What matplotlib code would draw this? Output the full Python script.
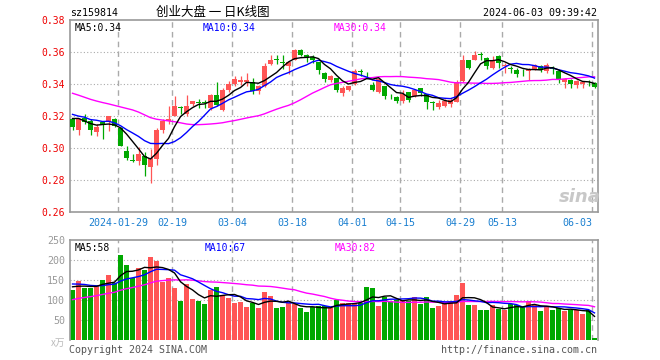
import numpy as np
import pandas as pd
import matplotlib
matplotlib.use("Agg")
import matplotlib.pyplot as plt

# ---------------- data ----------------
dates = [
    '2024-01-17', '2024-01-18', '2024-01-19', '2024-01-22', '2024-01-23', '2024-01-24', '2024-01-25', '2024-01-26',
    '2024-01-29', '2024-01-30', '2024-01-31', '2024-02-01', '2024-02-02', '2024-02-05', '2024-02-06', '2024-02-07',
    '2024-02-08', '2024-02-19', '2024-02-20', '2024-02-21', '2024-02-22', '2024-02-23', '2024-02-26', '2024-02-27',
    '2024-02-28', '2024-02-29', '2024-03-01', '2024-03-04', '2024-03-05', '2024-03-06', '2024-03-07', '2024-03-08',
    '2024-03-11', '2024-03-12', '2024-03-13', '2024-03-14', '2024-03-15', '2024-03-18', '2024-03-19', '2024-03-20',
    '2024-03-21', '2024-03-22', '2024-03-25', '2024-03-26', '2024-03-27', '2024-03-28', '2024-03-29', '2024-04-01',
    '2024-04-02', '2024-04-03', '2024-04-08', '2024-04-09', '2024-04-10', '2024-04-11', '2024-04-12', '2024-04-15',
    '2024-04-16', '2024-04-17', '2024-04-18', '2024-04-19', '2024-04-22', '2024-04-23', '2024-04-24', '2024-04-25',
    '2024-04-26', '2024-04-29', '2024-04-30', '2024-05-06', '2024-05-07', '2024-05-08', '2024-05-09', '2024-05-10',
    '2024-05-13', '2024-05-14', '2024-05-15', '2024-05-16', '2024-05-17', '2024-05-20', '2024-05-21', '2024-05-22',
    '2024-05-23', '2024-05-24', '2024-05-27', '2024-05-28', '2024-05-29', '2024-05-30', '2024-05-31', '2024-06-03',
]

opens = [
    0.3183, 0.3110, 0.3185, 0.3167, 0.3098, 0.3160, 0.3160, 0.3183, 0.3125, 0.2983,
    0.2925, 0.2917, 0.2952, 0.2879, 0.2931, 0.3115, 0.3167, 0.3202, 0.3255, 0.3215,
    0.3277, 0.3285, 0.3285, 0.3250, 0.3333, 0.3240, 0.3365, 0.3400, 0.3413, 0.3410,
    0.3410, 0.3354, 0.3390, 0.3527, 0.3556, 0.3535, 0.3515, 0.3552, 0.3615, 0.3583,
    0.3569, 0.3535, 0.3469, 0.3427, 0.3435, 0.3342, 0.3365, 0.3398, 0.3481, 0.3452,
    0.3396, 0.3350, 0.3385, 0.3325, 0.3317, 0.3296, 0.3348, 0.3323, 0.3375, 0.3335,
    0.3282, 0.3255, 0.3265, 0.3275, 0.3290, 0.3417, 0.3548, 0.3552, 0.3585, 0.3563,
    0.3500, 0.3577, 0.3510, 0.3496, 0.3485, 0.3481, 0.3479, 0.3494, 0.3515, 0.3479,
    0.3496, 0.3479, 0.3415, 0.3427, 0.3396, 0.3400, 0.3412, 0.3406,
]
highs = [
    0.3190, 0.3185, 0.3215, 0.3183, 0.3150, 0.3171, 0.3200, 0.3185, 0.3131, 0.3015,
    0.2960, 0.3006, 0.2975, 0.2996, 0.3127, 0.3183, 0.3265, 0.3323, 0.3265, 0.3333,
    0.3296, 0.3306, 0.3298, 0.3335, 0.3410, 0.3375, 0.3417, 0.3448, 0.3448, 0.3469,
    0.3438, 0.3396, 0.3531, 0.3583, 0.3583, 0.3583, 0.3546, 0.3619, 0.3617, 0.3590,
    0.3583, 0.3538, 0.3475, 0.3458, 0.3440, 0.3385, 0.3390, 0.3494, 0.3492, 0.3475,
    0.3410, 0.3438, 0.3390, 0.3338, 0.3325, 0.3360, 0.3352, 0.3369, 0.3377, 0.3338,
    0.3295, 0.3300, 0.3305, 0.3315, 0.3425, 0.3583, 0.3552, 0.3608, 0.3598, 0.3569,
    0.3577, 0.3580, 0.3531, 0.3510, 0.3500, 0.3494, 0.3500, 0.3527, 0.3521, 0.3531,
    0.3515, 0.3485, 0.3438, 0.3431, 0.3427, 0.3417, 0.3427, 0.3410,
]
lows = [
    0.3110, 0.3079, 0.3150, 0.3079, 0.3073, 0.3056, 0.3104, 0.3131, 0.3010, 0.2923,
    0.2915, 0.2892, 0.2823, 0.2781, 0.2896, 0.3094, 0.3150, 0.3198, 0.3215, 0.3198,
    0.3265, 0.3250, 0.3252, 0.3240, 0.3260, 0.3233, 0.3350, 0.3388, 0.3396, 0.3390,
    0.3340, 0.3340, 0.3381, 0.3521, 0.3527, 0.3496, 0.3460, 0.3548, 0.3573, 0.3540,
    0.3531, 0.3460, 0.3410, 0.3410, 0.3350, 0.3323, 0.3354, 0.3392, 0.3450, 0.3440,
    0.3354, 0.3344, 0.3306, 0.3306, 0.3281, 0.3281, 0.3285, 0.3317, 0.3327, 0.3242,
    0.3240, 0.3245, 0.3258, 0.3255, 0.3285, 0.3410, 0.3494, 0.3548, 0.3548, 0.3494,
    0.3494, 0.3500, 0.3469, 0.3469, 0.3444, 0.3448, 0.3427, 0.3490, 0.3473, 0.3469,
    0.3465, 0.3406, 0.3377, 0.3377, 0.3377, 0.3377, 0.3385, 0.3377,
]
closes = [
    0.3131, 0.3183, 0.3160, 0.3110, 0.3131, 0.3150, 0.3198, 0.3135, 0.3015, 0.2938,
    0.2921, 0.2965, 0.2896, 0.2938, 0.3115, 0.3167, 0.3183, 0.3265, 0.3252, 0.3265,
    0.3296, 0.3283, 0.3281, 0.3333, 0.3267, 0.3365, 0.3400, 0.3431, 0.3427, 0.3427,
    0.3354, 0.3385, 0.3515, 0.3552, 0.3552, 0.3531, 0.3540, 0.3615, 0.3583, 0.3563,
    0.3548, 0.3485, 0.3431, 0.3448, 0.3360, 0.3375, 0.3385, 0.3481, 0.3477, 0.3448,
    0.3360, 0.3431, 0.3327, 0.3323, 0.3292, 0.3338, 0.3302, 0.3365, 0.3344, 0.3290,
    0.3280, 0.3283, 0.3292, 0.3300, 0.3415, 0.3548, 0.3500, 0.3583, 0.3583, 0.3515,
    0.3548, 0.3531, 0.3521, 0.3494, 0.3465, 0.3479, 0.3494, 0.3519, 0.3485, 0.3519,
    0.3494, 0.3423, 0.3431, 0.3400, 0.3417, 0.3410, 0.3410, 0.3381,
]
volumes = [
    125, 147.5, 131, 131, 136, 150, 162.5, 143, 212.5, 187.5,
    154, 179, 175, 207, 198, 146, 156, 131, 97, 140,
    102, 97, 90, 125, 132.5, 112.5, 106, 93, 95, 83,
    93, 80, 120, 110, 80, 82.5, 93, 90, 80, 70,
    82.5, 85, 85, 80, 100, 92.5, 92.5, 90, 93, 132.5,
    130, 85, 107.5, 97.5, 100, 99, 97.5, 107.5, 90, 107.5,
    80, 85, 90, 97.5, 112.5, 142.5, 87.5, 87.5, 75, 75,
    87.5, 77.5, 75, 90, 87.5, 82.5, 97.5, 87.5, 72.5, 82.5,
    75, 80, 72.5, 75, 75, 65, 75, 5,
]
# closes / volumes of the 29 sessions before the window (estimated from the MA lines)
prior_closes = [
    0.354, 0.355, 0.350, 0.345, 0.343, 0.345, 0.342, 0.330, 0.322, 0.320,
    0.337, 0.342, 0.346, 0.341, 0.333, 0.334, 0.341, 0.346, 0.349, 0.341,
    0.329, 0.323, 0.326, 0.317, 0.323, 0.318, 0.324, 0.319, 0.318,
]
prior_volumes = [
    55, 60, 70, 62, 58, 75, 68, 60, 72, 65, 80, 70, 62, 75,
    100, 120, 110, 115, 120, 130,
    150, 140, 155, 145, 145,
    140, 130, 135, 135,
]

tick_dates = ['2024-01-29', '2024-02-19', '2024-03-04', '2024-03-18', '2024-04-01',
              '2024-04-15', '2024-04-29', '2024-05-13', '2024-06-03']
tick_labels = ['2024-01-29', '02-19', '03-04', '03-18', '04-01', '04-15', '04-29', '05-13', '06-03']
price_ticks = [0.26, 0.28, 0.30, 0.32, 0.34, 0.36, 0.38]
vol_ticks = [50, 100, 150, 200, 250]

# ---------------- style ----------------
RED = '#ff5555'
GREEN = '#00a800'
MONO = 'DejaVu Sans Mono'
CJK = ['Noto Sans CJK SC', 'DejaVu Sans']
FRAME = '#999999'
GRID = '#aaaaaa'

W, H = 660, 360
fig = plt.figure(figsize=(6.6, 3.6), dpi=100)
fig.patch.set_facecolor('white')

def fx(px):
    return px / W

def fy(py):
    return 1 - py / H

L, R = 70, 597.5
ax1 = fig.add_axes([fx(L), fy(212), (R - L) / W, 192 / H])
ax2 = fig.add_axes([fx(L), fy(340), (R - L) / W, 100 / H])

n = len(closes)
x = np.arange(n)
o = np.array(opens); c = np.array(closes); h = np.array(highs); lo = np.array(lows)
v = np.array(volumes)
up = c >= o
colors = np.where(up, RED, GREEN)

full_c = pd.Series(prior_closes + closes)
full_v = pd.Series(prior_volumes + volumes)
np_ = len(prior_closes)
ma = {k: full_c.rolling(k).mean().values[np_:] for k in (5, 10, 30)}
vma = {k: full_v.rolling(k).mean().values[np_:] for k in (5, 10, 30)}

xlim = (-0.42, 87.5)
tick_pos = [dates.index(d) - 0.4 for d in tick_dates]

# ----- price panel -----
for yv in price_ticks[1:-1]:
    ax1.axhline(yv, color=GRID, lw=0.8, ls=(0, (1, 2)), zorder=0)
for p in tick_pos:
    ax1.axvline(p, color=GRID, lw=1.0, ls=(0, (4, 3)), zorder=0)

ax1.vlines(x, lo, h, colors=colors, lw=0.9, zorder=2)
body_bottom = np.minimum(o, c)
body_h = np.maximum(np.abs(c - o), 0.0005)
ax1.bar(x, body_h, bottom=body_bottom, width=0.82, color=colors, lw=0, zorder=3)

ax1.plot(x, ma[30], color='#ff00ff', lw=1.0, zorder=4)
ax1.plot(x, ma[10], color='#0000ff', lw=1.0, zorder=4)
ax1.plot(x, ma[5], color='black', lw=1.0, zorder=5)

ax1.set_xlim(*xlim)
ax1.set_ylim(0.26, 0.38)
ax1.set_yticks(price_ticks)
ax1.set_yticklabels(['%.2f' % t for t in price_ticks], color='#ee0000', fontsize=7, family=MONO)
ax1.set_xticks(tick_pos)
ax1.set_xticklabels(tick_labels, color='#1a7fd0', fontsize=7.2, family=MONO)
ax1.get_xticklabels()[-1].set_horizontalalignment('right')
ax1.tick_params(axis='both', length=0)
ax1.tick_params(axis='y', pad=3.6)
ax1.tick_params(axis='x', pad=4.0)
for s in ax1.spines.values():
    s.set_color(FRAME); s.set_linewidth(1.2)

ax1.text(0.008, 0.985, 'MA5:0.34', transform=ax1.transAxes, ha='left', va='top',
         fontsize=7, family=MONO, color='black')
ax1.text((203 - L) / (R - L), 0.985, 'MA10:0.34', transform=ax1.transAxes, ha='left', va='top',
         fontsize=7, family=MONO, color='#0000ff')
ax1.text((334 - L) / (R - L), 0.985, 'MA30:0.34', transform=ax1.transAxes, ha='left', va='top',
         fontsize=7, family=MONO, color='#ff00ff')

# sina watermark
fig.text(fx(580), fy(197), 'sina', ha='center', va='center', fontsize=13, fontstyle='italic',
         fontweight='bold', color='#c8c8c8', family='DejaVu Sans')

# ----- volume panel -----
for yv in [50, 100, 150, 200]:
    ax2.axhline(yv, color=GRID, lw=0.8, ls=(0, (1, 2)), zorder=0)
for p in tick_pos:
    ax2.axvline(p, color=GRID, lw=1.0, ls=(0, (4, 3)), zorder=0)

ax2.bar(x, v, width=0.82, color=colors, lw=0, zorder=2)
ax2.plot(x, vma[30], color='#ff00ff', lw=1.0, zorder=4)
ax2.plot(x, vma[10], color='#0000ff', lw=1.0, zorder=4)
ax2.plot(x, vma[5], color='black', lw=1.0, zorder=5)

ax2.set_xlim(*xlim)
ax2.set_ylim(0, 250)
ax2.set_yticks(vol_ticks)
ax2.set_yticklabels([str(t) for t in vol_ticks], color='#999999', fontsize=7.2, family=MONO)
ax2.set_xticks([])
ax2.tick_params(axis='both', length=0)
ax2.tick_params(axis='y', pad=3.6)
for k, s in ax2.spines.items():
    s.set_color(FRAME); s.set_linewidth(1.2)
ax2.spines['bottom'].set_visible(False)

ax2.text(0.008, 0.97, 'MA5:58', transform=ax2.transAxes, ha='left', va='top',
         fontsize=7, family=MONO, color='black')
ax2.text((205 - L) / (R - L), 0.97, 'MA10:67', transform=ax2.transAxes, ha='left', va='top',
         fontsize=7, family=MONO, color='#0000ff')
ax2.text((335 - L) / (R - L), 0.97, 'MA30:82', transform=ax2.transAxes, ha='left', va='top',
         fontsize=7, family=MONO, color='#ff00ff')

fig.text(fx(65), fy(343), 'x万', ha='right', va='center', fontsize=7, color='#bbbbbb', family=CJK)

# ----- header / footer -----
fig.text(fx(70), fy(13), 'sz159814', ha='left', va='center', fontsize=7.2, family=MONO, color='black')
fig.text(fx(213), fy(12.5), '创业大盘 一 日K线图', ha='center', va='center', fontsize=9, family=CJK, color='black')
fig.text(fx(597), fy(13), '2024-06-03 09:39:42', ha='right', va='center', fontsize=7.2, family=MONO, color='black')
fig.text(fx(69), fy(350), 'Copyright 2024 SINA.COM', ha='left', va='center', fontsize=7.2, family=MONO, color='#555555')
fig.text(fx(597), fy(350), 'http://finance.sina.com.cn', ha='right', va='center', fontsize=7.2, family=MONO, color='#555555')

fig.savefig('out.png', dpi=100, facecolor='white')
